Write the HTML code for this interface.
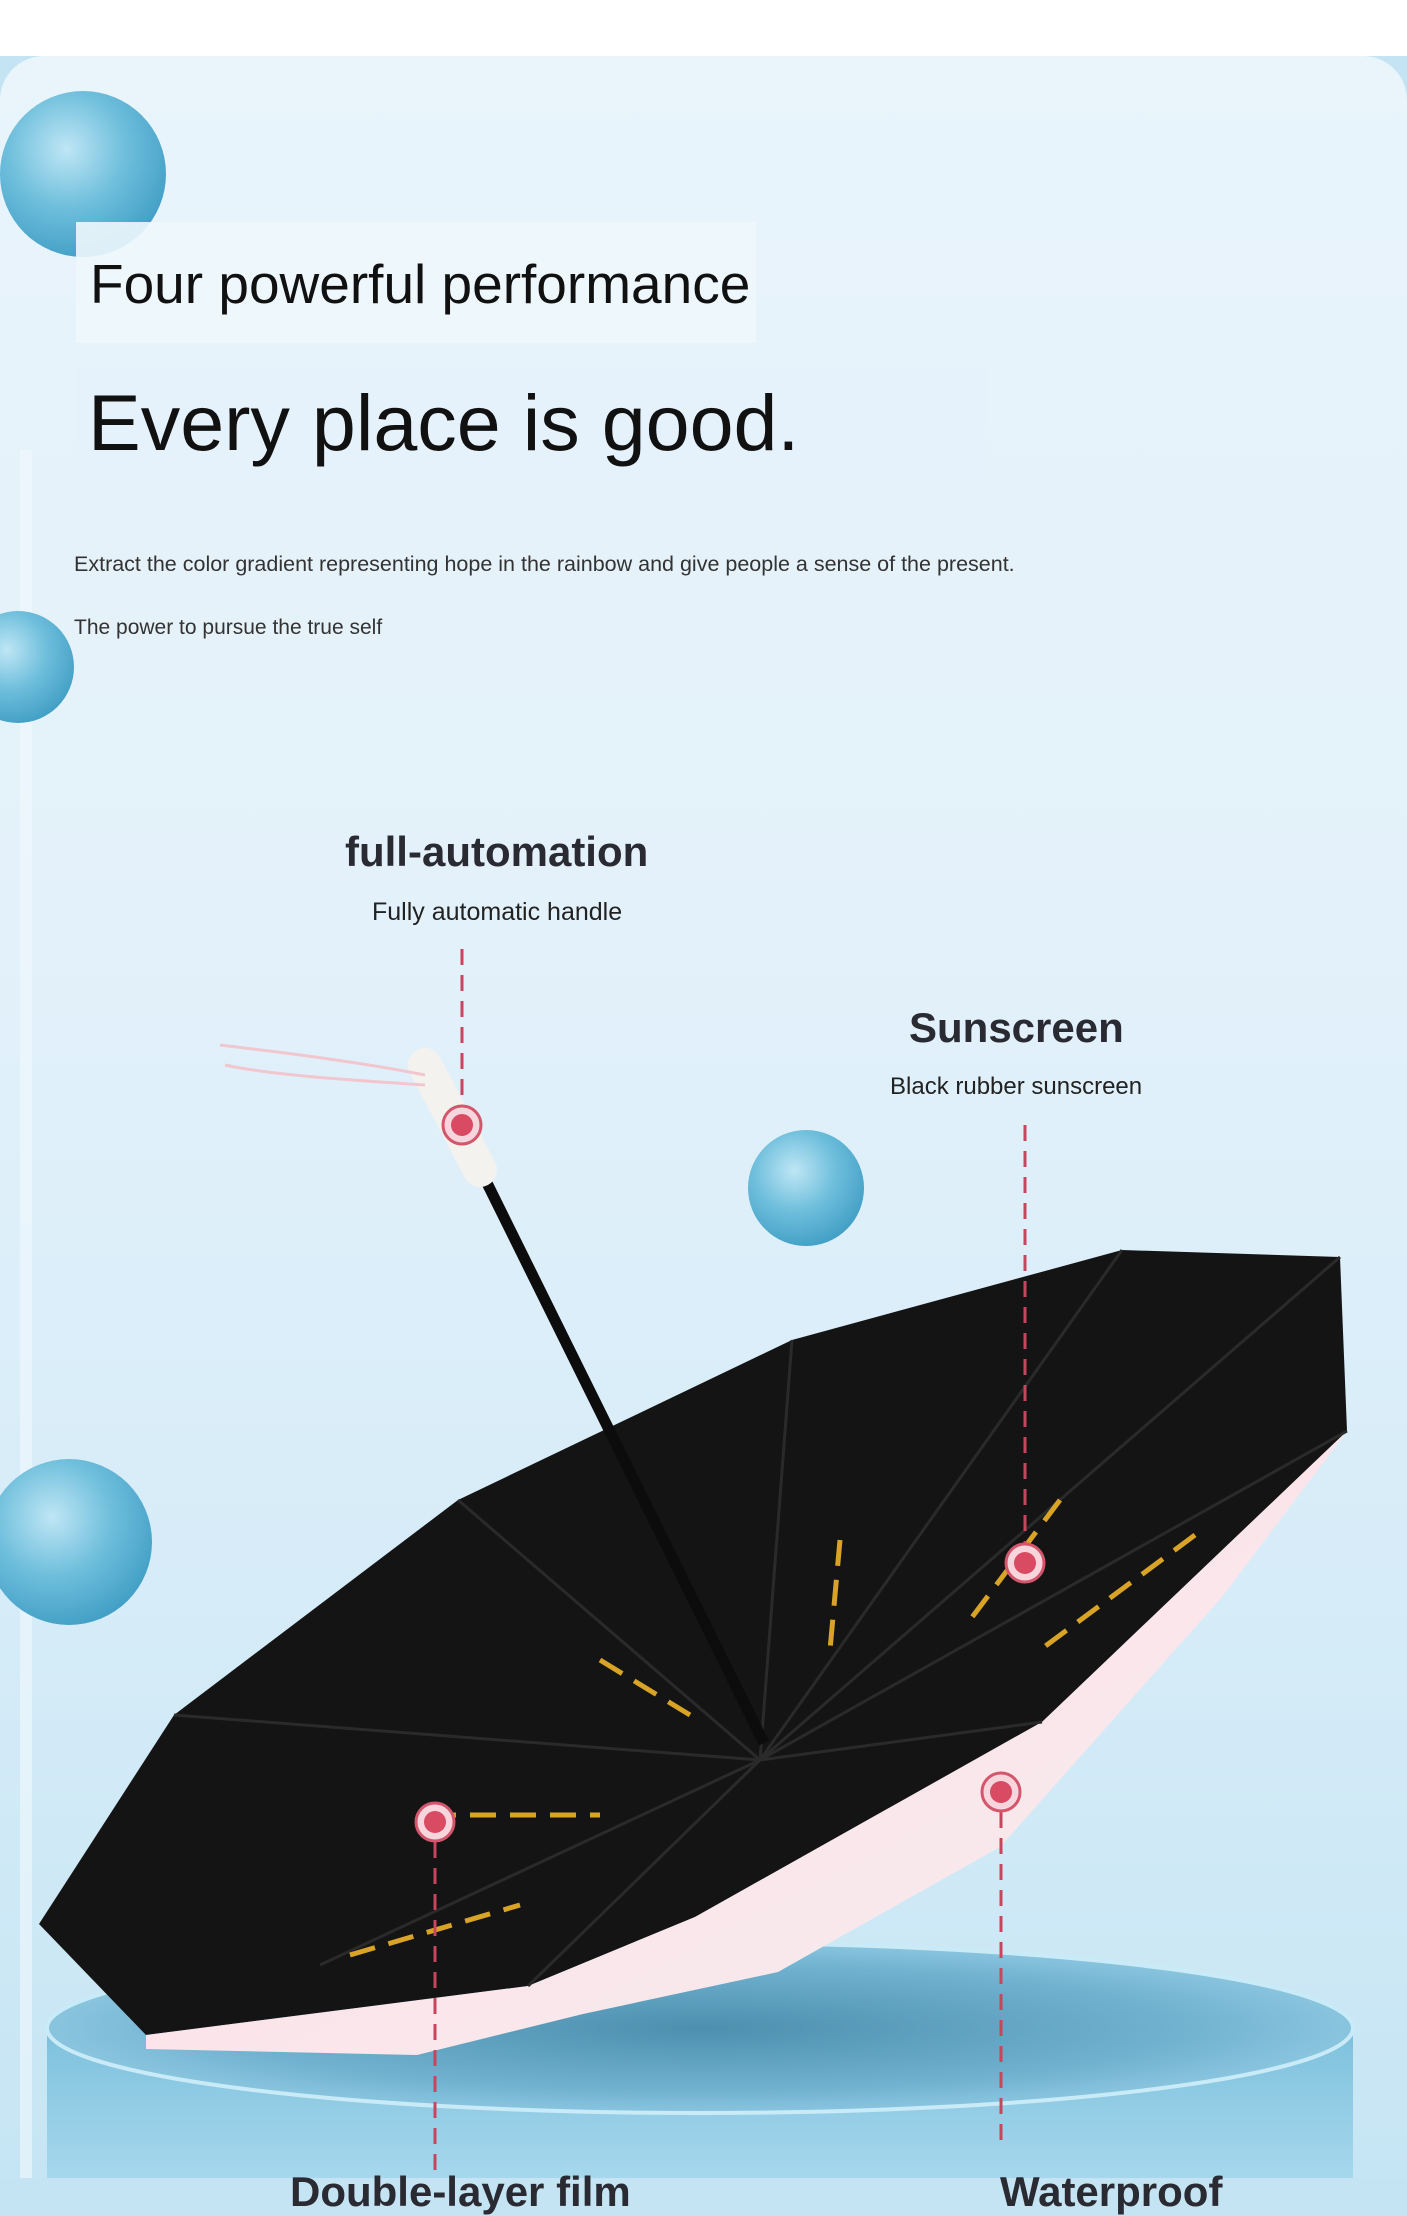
<!DOCTYPE html>
<html><head><meta charset="utf-8"><style>
html,body{margin:0;padding:0;background:#c4e4f3;}
body{width:1407px;height:2178px;position:relative;overflow:hidden;font-family:"Liberation Sans","DejaVu Sans",sans-serif;}
.t{position:absolute;white-space:nowrap;color:#111;}
</style></head><body>
<svg width="1407" height="2178" viewBox="0 0 1407 2178" style="position:absolute;left:0;top:0">
<defs>
<linearGradient id="bg" x1="0" y1="0" x2="0" y2="1">
<stop offset="0" stop-color="#e9f4fb"/><stop offset="0.4" stop-color="#e3f1fa"/><stop offset="0.7" stop-color="#d6ecf8"/><stop offset="1" stop-color="#c4e4f3"/></linearGradient>
<radialGradient id="bub" cx="0.4" cy="0.35" r="0.7"><stop offset="0" stop-color="#bfe6f5"/><stop offset="0.5" stop-color="#6fbfdc"/><stop offset="1" stop-color="#3f9dc4"/></radialGradient>
<linearGradient id="pink" x1="0" y1="0" x2="1" y2="1"><stop offset="0" stop-color="#f5d0db"/><stop offset="0.5" stop-color="#fbe4ea"/><stop offset="1" stop-color="#f3f0f0"/></linearGradient>
<linearGradient id="ped" x1="0" y1="0" x2="0" y2="1"><stop offset="0" stop-color="#7cc0dc"/><stop offset="1" stop-color="#a9d9ee"/></linearGradient>
<radialGradient id="pedtop" cx="0.5" cy="0.5" r="0.6"><stop offset="0" stop-color="#4d8fae"/><stop offset="0.6" stop-color="#6fb1cf"/><stop offset="1" stop-color="#9dd3ea"/></radialGradient>
</defs>
<rect x="0" y="0" width="1407" height="56" fill="#fff"/>
<rect x="0" y="56" width="1407" height="2200" rx="44" fill="url(#bg)"/>
<rect x="20" y="450" width="12" height="1750" fill="#f2f9fd" opacity="0.6"/>
<circle cx="83" cy="174" r="83" fill="url(#bub)"/>
<circle cx="18" cy="667" r="56" fill="url(#bub)"/>
<circle cx="806" cy="1188" r="58" fill="url(#bub)"/>
<circle cx="69" cy="1542" r="83" fill="url(#bub)"/>
<rect x="47" y="2028" width="1306" height="160" fill="url(#ped)"/>
<ellipse cx="700" cy="2028" rx="653" ry="85" fill="url(#pedtop)"/>
<ellipse cx="700" cy="2028" rx="653" ry="85" fill="none" stroke="#c9ebf7" stroke-width="4"/>
<polygon points="39,1924 174,1715 458,1500 792,1340 1122,1250 1340,1257 1347,1431 1042,1722 695,1917 528,1986 146,2035" fill="#141414"/>
<polygon points="1347,1431 1222,1597 1000,1847 778,1972 583,2014 417,2055 146,2049 146,2035 528,1986 695,1917 1042,1722" fill="url(#pink)"/>
<g stroke="#2a2a2a" stroke-width="3" fill="none">
<line x1="760" y1="1760" x2="174" y2="1715"/><line x1="760" y1="1760" x2="458" y2="1500"/>
<line x1="760" y1="1760" x2="792" y2="1340"/><line x1="760" y1="1760" x2="1122" y2="1250"/>
<line x1="760" y1="1760" x2="1340" y2="1257"/><line x1="760" y1="1760" x2="1347" y2="1431"/>
<line x1="760" y1="1760" x2="320" y2="1965"/><line x1="760" y1="1760" x2="528" y2="1986"/>
<line x1="760" y1="1760" x2="1042" y2="1722"/>
</g>
<g stroke="#d9a326" stroke-width="5" stroke-dasharray="26 14" fill="none">
<line x1="430" y1="1815" x2="600" y2="1815"/><line x1="600" y1="1660" x2="690" y2="1715"/>
<line x1="840" y1="1540" x2="830" y2="1650"/><line x1="1060" y1="1500" x2="970" y2="1620"/>
<line x1="1195" y1="1535" x2="1040" y2="1650"/><line x1="350" y1="1955" x2="520" y2="1905"/>
</g>
<line x1="764" y1="1743" x2="486" y2="1181" stroke="#0c0c0c" stroke-width="11"/>
<line x1="480" y1="1170" x2="425" y2="1065" stroke="#f4f2ee" stroke-width="34" stroke-linecap="round"/>
<path d="M425 1075 C350 1060 260 1050 220 1045 M425 1085 C350 1080 270 1075 225 1065" stroke="#f1c6cf" stroke-width="3" fill="none"/>
<g stroke="#c9445c" stroke-width="3" stroke-dasharray="16 10" fill="none">
<line x1="462" y1="949" x2="462" y2="1108"/>
<line x1="1025" y1="1125" x2="1025" y2="1545"/>
<line x1="435" y1="1842" x2="435" y2="2178"/>
<line x1="1001" y1="1812" x2="1001" y2="2145"/>
</g>
<g>
<circle cx="462" cy="1125" r="19" fill="#f6d6dc" stroke="#d4566c" stroke-width="3"/><circle cx="462" cy="1125" r="11" fill="#d94a63"/>
<circle cx="1025" cy="1563" r="19" fill="#f6d6dc" stroke="#d4566c" stroke-width="3"/><circle cx="1025" cy="1563" r="11" fill="#d94a63"/>
<circle cx="435" cy="1822" r="19" fill="#f6d6dc" stroke="#d4566c" stroke-width="3"/><circle cx="435" cy="1822" r="11" fill="#d94a63"/>
<circle cx="1001" cy="1792" r="19" fill="#f6d6dc" stroke="#d4566c" stroke-width="3"/><circle cx="1001" cy="1792" r="11" fill="#d94a63"/>
</g>
<rect x="76" y="222" width="680" height="121" fill="#eef7fc" opacity="0.9"/>
<rect x="76" y="368" width="910" height="111" fill="#e4f2fb" opacity="0.9"/>
</svg>
<div class="t" style="left:90px;top:252px;font-size:55px;">Four powerful performance</div>
<div class="t" style="left:88px;top:377px;font-size:79px;">Every place is good.</div>
<div class="t" style="left:74px;top:552px;font-size:21.5px;color:#333;">Extract the color gradient representing hope in the rainbow and give people a sense of the present.</div>
<div class="t" style="left:74px;top:616px;font-size:21px;color:#333;">The power to pursue the true self</div>
<div class="t" style="left:345px;top:828px;font-size:42px;font-weight:bold;color:#2a2a33;">full-automation</div>
<div class="t" style="left:372px;top:898px;font-size:25px;color:#222;">Fully automatic handle</div>
<div class="t" style="left:909px;top:1004px;font-size:42px;font-weight:bold;color:#2a2a33;">Sunscreen</div>
<div class="t" style="left:890px;top:1073px;font-size:24px;color:#222;">Black rubber sunscreen</div>
<div class="t" style="left:290px;top:2168px;font-size:42px;font-weight:bold;color:#2a2a33;">Double-layer film</div>
<div class="t" style="left:1000px;top:2168px;font-size:42px;font-weight:bold;color:#2a2a33;">Waterproof</div>
</body></html>
